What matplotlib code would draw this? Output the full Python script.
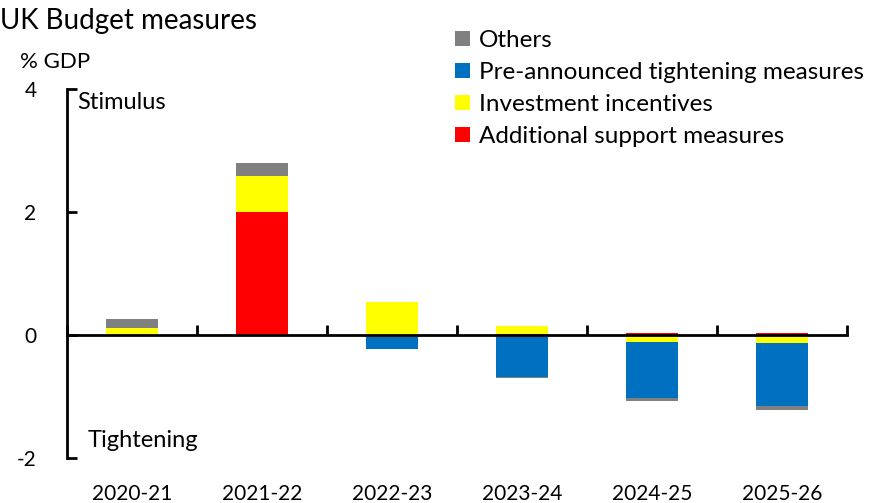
import matplotlib.pyplot as plt
import numpy as np

plt.rcParams['font.family'] = ['Lato', 'DejaVu Sans']

# data (% GDP)
years = ['2020-21', '2021-22', '2022-23', '2023-24', '2024-25', '2025-26']
support = [0.0, 2.0, 0.0, 0.02, 0.04, 0.04]
investment = [0.11, 0.59, 0.53, 0.12, -0.11, -0.125]
preannounced = [0.0, 0.0, -0.22, -0.68, -0.92, -1.03]
others = [0.15, 0.20, 0.01, -0.02, -0.04, -0.065]

series = [('Additional support measures', support, '#FF0000'),
          ('Investment incentives', investment, '#FFFF00'),
          ('Pre-announced tightening measures', preannounced, '#0070C0'),
          ('Others', others, '#808080')]

fig = plt.figure(figsize=(8.74, 5.03), dpi=100)
ax = fig.add_axes([67/874, 1-458/503, 780/874, 369/503])

x = np.arange(len(years))
pos_base = np.zeros(len(years))
neg_base = np.zeros(len(years))
for name, vals, col in series:
    v = np.array(vals)
    bottoms = np.where(v >= 0, pos_base, neg_base)
    ax.bar(x, v, width=0.4, bottom=bottoms, color=col, label=name, zorder=2)
    pos_base += np.where(v >= 0, v, 0)
    neg_base += np.where(v < 0, v, 0)

ax.set_xlim(-0.5, len(years) - 0.5)
ax.set_ylim(-2, 4)
ax.set_yticks([-2, 0, 2, 4])
ax.set_yticklabels(['-2', '0', '2', '4'])
ax.tick_params(axis='y', direction='in', length=7, width=2, pad=22, labelsize=15)

ax.spines['top'].set_visible(False)
ax.spines['right'].set_visible(False)
ax.spines['left'].set_linewidth(2)
ax.spines['bottom'].set_position(('data', 0))
ax.spines['bottom'].set_linewidth(2)
ax.spines['bottom'].set_zorder(3)
ax.set_xticks(np.arange(len(years) + 1) - 0.5)
ax.tick_params(axis='x', direction='in', length=7, width=2, labelbottom=False)

# category labels at the bottom
sec = ax.secondary_xaxis('bottom')
sec.set_xticks(x)
sec.set_xticklabels(years)
sec.tick_params(length=0, pad=19, labelsize=15)
sec.spines['bottom'].set_visible(False)

ax.text(0.013, 3.78, 'Stimulus', fontsize=17, va='center', transform=ax.get_yaxis_transform())
ax.text(0.026, -1.72, 'Tightening', fontsize=17, va='center', transform=ax.get_yaxis_transform())

fig.text(20/874, 1-62/503, '% GDP', fontsize=16, va='center')
fig.text(0/874, 1-21/503, 'UK Budget measures', fontsize=20, va='center')

h, l = ax.get_legend_handles_labels()
ax.legend(h[::-1], l[::-1], loc='upper left', bbox_to_anchor=(455/874, 1-30/503),
          bbox_transform=fig.transFigure, frameon=False, fontsize=17.5,
          handlelength=0.6, handleheight=0.6, handletextpad=0.4,
          labelspacing=0.45, borderpad=0, borderaxespad=0)

fig.savefig('out.png', dpi=100)
